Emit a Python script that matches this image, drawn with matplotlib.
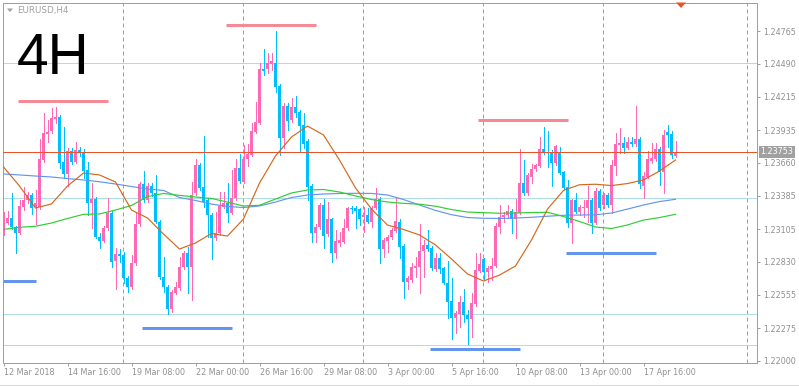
import matplotlib
matplotlib.use("Agg")
import matplotlib.pyplot as plt
from matplotlib.lines import Line2D
from matplotlib.patches import Polygon
import numpy as np

plt.rcParams['font.family'] = ['DejaVu Sans']

symbol_label = "EURUSD,H4"
big_label = "4H"

opens = [1.23120, 1.23158, 1.23200, 1.23120, 1.23075, 1.23293, 1.23349, 1.23391, 1.23290, 1.23290,
         1.23684, 1.23902, 1.23928, 1.24030, 1.24047, 1.23670, 1.23567, 1.23760, 1.23670, 1.23768,
         1.23740, 1.23600, 1.23326, 1.23357, 1.23042, 1.23008, 1.23112, 1.23237, 1.22840, 1.22894,
         1.22888, 1.22698, 1.22618, 1.22818, 1.23147, 1.23483, 1.23349, 1.23469, 1.23405, 1.23167,
         1.22701, 1.22623, 1.22433, 1.22572, 1.22609, 1.22785, 1.22902, 1.22785, 1.23405, 1.23642,
         1.23455, 1.23349, 1.23223, 1.23028, 1.23070, 1.23293, 1.23326, 1.23243, 1.23363, 1.23615,
         1.23502, 1.23690, 1.23726, 1.23922, 1.23997, 1.24447, 1.24447, 1.24485, 1.24500, 1.24307,
         1.23866, 1.24137, 1.24019, 1.24126, 1.24089, 1.23978, 1.23846, 1.23469, 1.23075, 1.23120,
         1.23307, 1.23064, 1.23187, 1.22902, 1.22986, 1.23000, 1.23112, 1.23285, 1.23285, 1.23271,
         1.23204, 1.23223, 1.23167, 1.23285, 1.23357, 1.22938, 1.23008, 1.23037, 1.23092, 1.23167,
         1.22964, 1.22664, 1.22679, 1.22782, 1.22785, 1.22924, 1.22972, 1.22944, 1.22768, 1.22866,
         1.22777, 1.22656, 1.22503, 1.22358, 1.22394, 1.22497, 1.22385, 1.22349, 1.22475, 1.22756,
         1.22855, 1.22748, 1.22771, 1.22798, 1.23125, 1.23209, 1.23225, 1.23257, 1.23187, 1.23243,
         1.23489, 1.23405, 1.23544, 1.23609, 1.23636, 1.23776, 1.23754, 1.23754, 1.23656, 1.23754,
         1.23584, 1.23455, 1.23154, 1.23349, 1.23251, 1.23279, 1.23279, 1.23349, 1.23159, 1.23424,
         1.23307, 1.23391, 1.23307, 1.23636, 1.23810, 1.23829, 1.23787, 1.23838, 1.23818, 1.23860,
         1.23469, 1.23544, 1.23678, 1.23690, 1.23774, 1.23586, 1.23916, 1.23902, 1.23720]

highs = [1.23248, 1.23257, 1.23408, 1.23131, 1.23349, 1.23458, 1.23416, 1.23408, 1.23433, 1.23860,
         1.24078, 1.24019, 1.24120, 1.24128, 1.24061, 1.23961, 1.23785, 1.23785, 1.23835, 1.23793,
         1.23776, 1.23667, 1.23491, 1.23374, 1.23073, 1.23131, 1.23366, 1.23257, 1.22947, 1.22938,
         1.22913, 1.22712, 1.22888, 1.23248, 1.23500, 1.23592, 1.23491, 1.23491, 1.23559, 1.23181,
         1.22871, 1.22637, 1.22595, 1.22664, 1.22871, 1.22922, 1.22955, 1.23500, 1.23693, 1.23659,
         1.23885, 1.23366, 1.23240, 1.23248, 1.23416, 1.23416, 1.23491, 1.23600, 1.23693, 1.23735,
         1.23810, 1.23818, 1.23994, 1.24170, 1.24497, 1.24614, 1.24581, 1.24581, 1.24765, 1.24321,
         1.24162, 1.24162, 1.24204, 1.24221, 1.24103, 1.24081, 1.23860, 1.23483, 1.23147, 1.23324,
         1.23357, 1.23332, 1.23198, 1.23098, 1.23081, 1.23190, 1.23293, 1.23299, 1.23299, 1.23285,
         1.23293, 1.23285, 1.23299, 1.23447, 1.23374, 1.23031, 1.23056, 1.23114, 1.23363, 1.23190,
         1.22980, 1.22712, 1.22821, 1.22871, 1.23147, 1.23014, 1.23098, 1.22964, 1.22905, 1.22905,
         1.22790, 1.22840, 1.22693, 1.22419, 1.22545, 1.22601, 1.22427, 1.22567, 1.22902, 1.22902,
         1.22863, 1.22796, 1.22860, 1.23154, 1.23307, 1.23251, 1.23307, 1.23273, 1.23357, 1.23776,
         1.23684, 1.23578, 1.23651, 1.23651, 1.23880, 1.23958, 1.23930, 1.23768, 1.23810, 1.23791,
         1.23592, 1.23517, 1.23357, 1.23405, 1.23307, 1.23349, 1.23466, 1.23366, 1.23447, 1.23441,
         1.23410, 1.23408, 1.23684, 1.23908, 1.23950, 1.23880, 1.23880, 1.23880, 1.24137, 1.23877,
         1.23586, 1.23762, 1.23824, 1.23824, 1.23793, 1.23936, 1.23978, 1.23927, 1.23843]

lows = [1.23056, 1.23147, 1.23106, 1.22905, 1.23064, 1.23265, 1.23324, 1.23232, 1.23147, 1.23273,
        1.23667, 1.23835, 1.23911, 1.23994, 1.23617, 1.23533, 1.23466, 1.23651, 1.23659, 1.23718,
        1.23533, 1.23223, 1.23114, 1.23031, 1.22949, 1.22997, 1.23098, 1.22790, 1.22603, 1.22829,
        1.22654, 1.22581, 1.22603, 1.22804, 1.23131, 1.23332, 1.23332, 1.23383, 1.23156, 1.22687,
        1.22578, 1.22391, 1.22411, 1.22561, 1.22595, 1.22771, 1.22570, 1.22511, 1.23391, 1.23433,
        1.23290, 1.23039, 1.22855, 1.23014, 1.23056, 1.23282, 1.23164, 1.23232, 1.23349, 1.23491,
        1.23491, 1.23634, 1.23718, 1.23911, 1.23986, 1.24397, 1.24413, 1.24438, 1.24257, 1.23726,
        1.23785, 1.23936, 1.24003, 1.24045, 1.23762, 1.23785, 1.23349, 1.23000, 1.23000, 1.23106,
        1.22949, 1.23047, 1.22832, 1.22863, 1.22964, 1.22989, 1.23098, 1.23240, 1.23114, 1.23139,
        1.23083, 1.23156, 1.23123, 1.23273, 1.22818, 1.22874, 1.22916, 1.23022, 1.23081, 1.22860,
        1.22530, 1.22601, 1.22662, 1.22706, 1.22567, 1.22706, 1.22922, 1.22762, 1.22754, 1.22735,
        1.22645, 1.22360, 1.22182, 1.22237, 1.22287, 1.22329, 1.22140, 1.22203, 1.22461, 1.22746,
        1.22679, 1.22664, 1.22679, 1.22787, 1.23070, 1.23164, 1.23198, 1.23070, 1.23028, 1.23232,
        1.23391, 1.23391, 1.23489, 1.23592, 1.23626, 1.23735, 1.23628, 1.23469, 1.23642, 1.23567,
        1.23441, 1.23120, 1.22991, 1.23240, 1.23223, 1.23209, 1.23164, 1.23070, 1.23147, 1.23265,
        1.23279, 1.23290, 1.23243, 1.23559, 1.23740, 1.23740, 1.23776, 1.23802, 1.23802, 1.23452,
        1.23363, 1.23533, 1.23661, 1.23676, 1.23475, 1.23410, 1.23793, 1.23701, 1.23709]

closes = [1.23187, 1.23200, 1.23120, 1.23075, 1.23299, 1.23349, 1.23391, 1.23279, 1.23324, 1.23690,
          1.23908, 1.23922, 1.24038, 1.24047, 1.23661, 1.23567, 1.23760, 1.23670, 1.23768, 1.23740,
          1.23592, 1.23326, 1.23357, 1.23042, 1.23008, 1.23112, 1.23237, 1.22832, 1.22896, 1.22882,
          1.22693, 1.22618, 1.22818, 1.23147, 1.23483, 1.23349, 1.23469, 1.23405, 1.23167, 1.22701,
          1.22618, 1.22433, 1.22581, 1.22623, 1.22790, 1.22902, 1.22785, 1.23391, 1.23642, 1.23447,
          1.23335, 1.23223, 1.23028, 1.23070, 1.23299, 1.23326, 1.23237, 1.23363, 1.23615, 1.23508,
          1.23690, 1.23735, 1.23928, 1.24005, 1.24447, 1.24433, 1.24500, 1.24510, 1.24298, 1.23871,
          1.24137, 1.24014, 1.24126, 1.24081, 1.23969, 1.23818, 1.23460, 1.23075, 1.23120, 1.23307,
          1.23047, 1.23187, 1.22902, 1.23008, 1.23014, 1.23112, 1.23285, 1.23271, 1.23259, 1.23190,
          1.23223, 1.23167, 1.23285, 1.23357, 1.22938, 1.23014, 1.23042, 1.23098, 1.23173, 1.22958,
          1.22664, 1.22698, 1.22790, 1.22796, 1.22924, 1.22972, 1.22938, 1.22777, 1.22866, 1.22768,
          1.22651, 1.22497, 1.22358, 1.22405, 1.22497, 1.22385, 1.22349, 1.22483, 1.22762, 1.22813,
          1.22748, 1.22777, 1.22798, 1.23131, 1.23209, 1.23225, 1.23257, 1.23187, 1.23246, 1.23489,
          1.23405, 1.23559, 1.23609, 1.23642, 1.23776, 1.23749, 1.23746, 1.23661, 1.23802, 1.23578,
          1.23452, 1.23154, 1.23349, 1.23251, 1.23288, 1.23293, 1.23349, 1.23154, 1.23424, 1.23279,
          1.23391, 1.23307, 1.23642, 1.23818, 1.23829, 1.23787, 1.23838, 1.23818, 1.23860, 1.23481,
          1.23550, 1.23690, 1.23698, 1.23774, 1.23586, 1.23894, 1.23894, 1.23726, 1.23753]

# moving averages, read every 4 bars
ma_step = 4
ma_orange = [1.23626, 1.23466, 1.23282, 1.23316, 1.23466, 1.23575, 1.23559, 1.23500, 1.23265, 1.23198,
             1.23064, 1.22938, 1.22989, 1.23068, 1.23047, 1.23190, 1.23491, 1.23718, 1.23877, 1.23969,
             1.23894, 1.23684, 1.23450, 1.23273, 1.23139, 1.23102, 1.23056, 1.22972, 1.22855, 1.22729,
             1.22670, 1.22720, 1.22796, 1.23014, 1.23273, 1.23429, 1.23477, 1.23481, 1.23470, 1.23487,
             1.23517, 1.23592, 1.23684]
ma_blue = [1.23567, 1.23559, 1.23550, 1.23542, 1.23529, 1.23517, 1.23502, 1.23483, 1.23462, 1.23441,
           1.23429, 1.23370, 1.23345, 1.23315, 1.23295, 1.23286, 1.23299, 1.23332, 1.23370, 1.23391,
           1.23399, 1.23404, 1.23405, 1.23404, 1.23391, 1.23353, 1.23307, 1.23262, 1.23226, 1.23202,
           1.23196, 1.23194, 1.23198, 1.23204, 1.23213, 1.23221, 1.23223, 1.23225, 1.23240, 1.23273,
           1.23307, 1.23336, 1.23355]
ma_green = [1.23103, 1.23120, 1.23129, 1.23156, 1.23194, 1.23229, 1.23232, 1.23265, 1.23303, 1.23378,
            1.23404, 1.23388, 1.23374, 1.23362, 1.23331, 1.23299, 1.23305, 1.23357, 1.23408, 1.23433,
            1.23437, 1.23416, 1.23383, 1.23353, 1.23332, 1.23321, 1.23314, 1.23297, 1.23269, 1.23248,
            1.23243, 1.23238, 1.23240, 1.23244, 1.23246, 1.23211, 1.23169, 1.23123, 1.23110, 1.23140,
            1.23181, 1.23202, 1.23229]

date_tick_bars = [0, 16, 32, 48, 64, 80, 96, 112, 128, 144, 160]
date_labels = ["12 Mar 2018", "14 Mar 16:00", "19 Mar 08:00", "22 Mar 00:00", "26 Mar 16:00",
               "29 Mar 08:00", "3 Apr 00:00", "5 Apr 16:00", "10 Apr 08:00", "13 Apr 00:00",
               "17 Apr 16:00"]
price_ticks = [1.24765, 1.24490, 1.24215, 1.23935, 1.23660, 1.23385, 1.23105, 1.22830,
               1.22555, 1.22275, 1.22000]
separator_bars = [30, 60, 90, 120, 150, 186]

level_lines = [1.24495, 1.23363, 1.22391, 1.22131]
current_price = 1.23753

high_seg_start = [3.6, 55.6, 118.6]
high_seg_end = [26.1, 78.1, 141.1]
high_seg_price = [1.24179, 1.24818, 1.24022]
low_seg_start = [-0.1, 34.6, 106.6, 140.6]
low_seg_end = [8.1, 57.1, 129.1, 163.1]
low_seg_price = [1.22673, 1.22279, 1.22103, 1.22905]

# ---------------------------------------------------------------
W, H = 799, 386
PX = 0.72  # one pixel in points
fig = plt.figure(figsize=(W / 100, H / 100), dpi=100)
fig.patch.set_facecolor('white')
ax = fig.add_axes([3 / W, 23 / H, 754 / W, 360 / H])
ax.set_xlim(-0.125, 188.375)
ax.set_ylim(1.21983, 1.25000)
ax.set_facecolor('white')

frame_col = '#A0A0A0'
text_col = '#909090'

# period separators
for s in separator_bars:
    ax.axvline(s - 0.125, color=frame_col, lw=PX, linestyle=(0, (4, 3)), zorder=1)

# horizontal levels
for lv in level_lines:
    ax.axhline(lv, color='#AEDDE3', lw=PX, zorder=2)
ax.axhline(current_price, color='#E8532A', lw=PX, zorder=6)

# candles
o = np.array(opens); h = np.array(highs); l = np.array(lows); c = np.array(closes)
x = np.arange(len(o))
up = c >= o
cols = np.where(up, '#FF69B4', '#00BFFF')
ax.vlines(x, l, h, colors=cols, lw=PX, zorder=3, antialiased=False)
body_lo = np.minimum(o, c)
body_h = np.maximum(np.abs(c - o), 0.00009)
ax.bar(x, body_h, width=0.75, bottom=body_lo, color=cols, linewidth=0, zorder=4,
       antialiased=False)

# moving averages
xm = np.arange(0, len(ma_orange) * ma_step, ma_step)
ax.plot(xm, ma_blue, color='#6495ED', lw=0.85, zorder=5)
ax.plot(xm, ma_green, color='#32CD32', lw=0.85, zorder=5)
ax.plot(xm, ma_orange, color='#D2691E', lw=0.85, zorder=5)

# weekly high / low segments
ax.hlines(high_seg_price, high_seg_start, high_seg_end, colors='#F48A93', lw=3 * PX, zorder=6)
ax.hlines(low_seg_price, low_seg_start, low_seg_end, colors='#6495ED', lw=3 * PX, zorder=6)

# axes styling
for sp in ax.spines.values():
    sp.set_color(frame_col)
    sp.set_linewidth(PX)
ax.yaxis.tick_right()
ax.set_yticks(price_ticks)
ax.set_yticklabels([f"{p:.5f}" for p in price_ticks])
ax.set_xticks(date_tick_bars)
ax.set_xticklabels(date_labels, ha='left')
ax.tick_params(axis='both', direction='out', length=3 * PX, width=PX, color=frame_col,
               labelcolor=text_col, labelsize=5.8)
ax.tick_params(axis='y', pad=2.2)
ax.tick_params(axis='x', pad=1.5)

# current price tag
ax.text(1.0045, current_price, f"{current_price:.5f}", transform=ax.get_yaxis_transform(),
        ha='left', va='center', fontsize=5.8, color='white', zorder=10, clip_on=False,
        bbox=dict(boxstyle='square,pad=0.2', fc='#A0A0A0', ec='none'))

# title texts
fig.text(17 / W, 1 - 10.5 / H, symbol_label, fontsize=6.3, color='#A0A0A0', ha='left', va='center')
fig.add_artist(Polygon([[7 / W, 1 - 8.5 / H], [13 / W, 1 - 8.5 / H], [10 / W, 1 - 12 / H]],
                       closed=True, transform=fig.transFigure, fc='#A0A0A0', ec='none'))
fig.text(16.5 / W, 1 - 74 / H, big_label, fontsize=41, family='Liberation Sans', color='black',
         ha='left', va='baseline')

# shift marker
fig.add_artist(Polygon([[676 / W, 1 - 2.5 / H], [686 / W, 1 - 2.5 / H], [681 / W, 1 - 8 / H]],
                       closed=True, transform=fig.transFigure, fc='#E8532A', ec='none'))

# bottom line
fig.add_artist(Line2D([0, 1], [1.5 / H, 1.5 / H], transform=fig.transFigure,
                      color='#D5D5D5', lw=PX))

fig.savefig('out.png', dpi=100, facecolor='white')
